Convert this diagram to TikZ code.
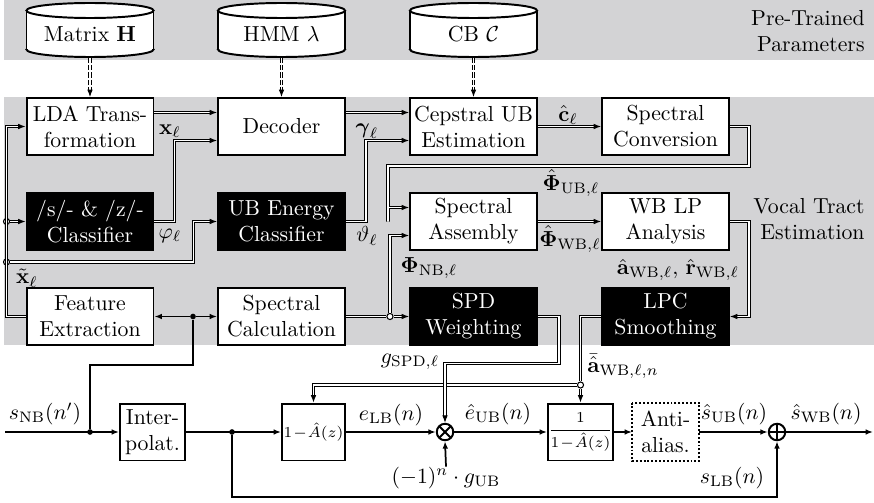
\documentclass[tikz,border=0pt]{standalone}
\usepackage{amsmath}
\usetikzlibrary{arrows.meta,calc}
\definecolor{bandgray}{RGB}{211,211,213}
\pgfdeclarelayer{bands}
\pgfdeclarelayer{drums}
\pgfsetlayers{bands,drums,main}
\begin{document}
\begin{tikzpicture}[x=0.46pt,y=-0.46pt,
  >={Latex[length=3.4pt,width=2.6pt]},
  blk/.style={draw,line width=0.9pt,fill=white,align=center,inner sep=0pt,
    minimum width=58.4pt,minimum height=26.2pt},
  dark/.style={blk,fill=black,text=white},
  filt/.style={blk,minimum width=29pt},
  drum/.style={align=center,inner sep=0pt,minimum width=58.4pt,minimum height=24.8pt},
  sig/.style={line width=0.8pt,->},
  sigl/.style={line width=0.8pt},
  vecl/.style={double=white,line width=0.45pt,double distance=0.6pt},
  vec/.style={vecl,->},
  dashvec/.style={vec,dash pattern=on 2.4pt off 0.9pt},
  jdot/.style={circle,fill=black,inner sep=0pt,minimum size=2.6pt},
  jring/.style={circle,draw,fill=white,line width=0.5pt,inner sep=0pt,minimum size=2.8pt},
  op/.style={circle,draw,line width=0.9pt,fill=white,inner sep=0pt,minimum size=7.6pt},
  lab/.style={inner sep=0pt},
]
\useasboundingbox (0,0) rectangle (874,502);

% shaded groups
\begin{pgfonlayer}{bands}
  \fill[bandgray] (4,0) rectangle (874,60);
  \fill[bandgray] (4,97) rectangle (874,345);
\end{pgfonlayer}

\node[align=right,anchor=east,inner sep=0pt] (ptp) at (865,31) {Pre-Trained\\Parameters};
\node[align=right,anchor=east,inner sep=0pt] (vte) at (865,219) {Vocal Tract\\Estimation};

% databases
\node[drum] (dbH) at (90,34) {Matrix $\mathbf{H}$};
\node[drum] (dbL) at (281.5,34) {HMM $\lambda$};
\node[drum] (dbC) at (473.5,34) {CB $\mathcal{C}$};
\begin{pgfonlayer}{drums}
\foreach \d in {dbH,dbL,dbC}{
  \filldraw[fill=white,line width=0.9pt] ($(\d.center)+(0,15.5)$) ellipse [x radius=63.5,y radius=7.5];
  \fill[white] ($(\d.center)+(-63.5,-23.5)$) rectangle ($(\d.center)+(63.5,15.5)$);
  \draw[line width=0.9pt] ($(\d.center)+(-63.5,-23.5)$) -- ($(\d.center)+(-63.5,15.5)$)
                          ($(\d.center)+(63.5,-23.5)$) -- ($(\d.center)+(63.5,15.5)$);
  \filldraw[fill=white,line width=0.9pt] ($(\d.center)+(0,-23.5)$) ellipse [x radius=63.5,y radius=7.5];
  \coordinate (\d-b) at ($(\d.center)+(0,24)$);
}
\end{pgfonlayer}

% vocal tract estimation blocks
\node[blk]  (lda)  at (90,126.5)    {LDA Trans-\\formation};
\node[blk]  (dec)  at (281.5,126.5) {Decoder};
\node[blk]  (cub)  at (473.5,126.5) {Cepstral UB\\Estimation};
\node[blk]  (sconv) at (665.5,126.5) {Spectral\\Conversion};
\node[dark] (szc)  at (90,221.5)    {/s/- \& /z/-\\Classifier};
\node[dark] (ube)  at (281.5,221.5) {UB Energy\\Classifier};
\node[blk]  (sasm) at (473.5,221.5) {Spectral\\Assembly};
\node[blk]  (wblp) at (665.5,221.5) {WB LP\\Analysis};
\node[blk]  (fex)  at (90,316.5)    {Feature\\Extraction};
\node[blk]  (scal) at (281.5,316.5) {Spectral\\Calculation};
\node[dark] (spd)  at (473.5,316.5) {SPD\\Weighting};
\node[dark] (lpcs) at (665.5,316.5) {LPC\\Smoothing};

% signal path
\node[blk,minimum width=29.9pt] (intp) at (152.5,432) {Inter-\\polat.};
\node[filt] (anf) at (313.5,432) {\scriptsize$1\!-\!\hat{A}(z)$};
\node[op,path picture={\draw[line width=0.9pt]
   (path picture bounding box.north west) -- (path picture bounding box.south east)
   (path picture bounding box.north east) -- (path picture bounding box.south west);}]
   (mul) at (445,432) {};
\node[filt] (syn) at (580.5,432) {\scriptsize$\dfrac{1}{1\!-\!\hat{A}(z)}$};
\node[blk,minimum width=29.9pt,draw=none] (aa) at (665.5,432) {Anti-\\alias.};
\draw[line width=0.9pt,dash pattern=on 0.9pt off 0.9pt] (aa.north west) rectangle (aa.south east);
\node[op,path picture={\draw[line width=0.9pt]
   (path picture bounding box.north) -- (path picture bounding box.south)
   (path picture bounding box.west) -- (path picture bounding box.east);}]
   (add) at (777,432) {};

\coordinate (sin) at (5,432);
\coordinate (sout) at (873,432);
\node[jdot] (jin) at (90,432) {};
\node[jdot] (jfe) at (193,316.5) {};
\node[jdot] (jint) at (232,432) {};

\draw[line width=1pt,->] (sin) -- (intp.west);
\draw[sigl] (jin) -- ++(0,-67) -| (jfe);
\draw[sig] (jfe) -- (fex.east);
\draw[sig] (jfe) -- (scal.west);
\draw[sig] (intp.east) -- (anf.west);
\draw[sig] (jint) -- ++(0,65) -| (add.south);
\draw[sig] (anf.east) -- (mul.west);
\draw[sig] (mul.east) -- (syn.west);
\draw[sig] (syn.east) -- (aa.west);
\draw[sig] (aa.east) -- (add.west);
\draw[sig] (add.east) -- (sout);

\node[lab] (lsnb) at (45,414) {$s_{\mathrm{NB}}(n')$};
\node[lab] (lelb) at (391,415) {$e_{\mathrm{LB}}(n)$};
\node[lab] (leub) at (498,414) {$\hat{e}_{\mathrm{UB}}(n)$};
\node[lab] (lsub) at (734,414) {$\hat{s}_{\mathrm{UB}}(n)$};
\node[lab] (lswb) at (826,414) {$\hat{s}_{\mathrm{WB}}(n)$};
\node[lab] (lslb) at (732,478) {$s_{\mathrm{LB}}(n)$};
\node[lab] (lgub) at (446,478) {$(-1)^n\cdot g_{\mathrm{UB}}$};
\draw[sig] (lgub.north) -- (mul.south);

% parameters into the estimation blocks
\draw[dashvec] (dbH-b) -- (lda.north);
\draw[dashvec] (dbL-b) -- (dec.north);
\draw[dashvec] (dbC-b) -- (cub.north);

% feature bus
\coordinate (bus) at ($(fex.west)+(-19,0)$);
\node[jring] (j1) at (bus |- szc.west) {};
\node[jring] (j2) at ($(bus)+(0,-54.5)$) {};
\draw[vec] (fex.west) -- (bus) |- (lda.west);
\draw[vec] (j1) -- (szc.west);
\draw[vec] (j2) -- ++(187,0) |- (ube.west);
\node[lab] (lxt) at (27,278) {$\tilde{\mathbf{x}}_\ell$};

\draw[vec] ($(lda.east)+(0,-14)$) -- ($(dec.west)+(0,-14)$);
\node[lab] (lx) at (170,131) {$\mathbf{x}_\ell$};
\draw[vec] (szc.east) -- ++(20,0) |- ($(dec.west)+(0,14)$);
\node[lab] (lphi) at (170,236) {$\varphi_\ell$};
\draw[vec] ($(dec.east)+(0,-14)$) -- ($(cub.west)+(0,-14)$);
\node[lab] (lgam) at (367,131) {$\boldsymbol{\gamma}_\ell$};
\draw[vec] (ube.east) -- ++(20,0) |- ($(cub.west)+(0,14)$);
\node[lab] (lth) at (367,236) {$\vartheta_\ell$};
\draw[vec] (cub.east) -- (sconv.west);
\node[lab] (lc) at (568,115) {$\hat{\mathbf{c}}_\ell$};
\draw[vec] (sconv.east) -- ++(19,0) -- ++(0,39.5) -| ($(sasm.west)+(-21,0)$) |- ($(sasm.west)+(0,-14)$);
\node[lab] (lpub) at (571,183) {$\hat{\boldsymbol{\Phi}}_{\mathrm{UB},\ell}$};
\draw[vec] (sasm.east) -- (wblp.west);
\node[lab] (lpwb) at (570,239) {$\hat{\boldsymbol{\Phi}}_{\mathrm{WB},\ell}$};
\draw[vec] (wblp.east) -- ++(19,0) |- (lpcs.east);
\node[lab] (lar) at (678,270) {$\hat{\mathbf{a}}_{\mathrm{WB},\ell},\,\hat{\mathbf{r}}_{\mathrm{WB},\ell}$};

\node[jring] (jnb) at ($(scal.east)+(44,0)$) {};
\draw[vecl] (scal.east) -- (jnb);
\draw[vec] (jnb) -- (spd.west);
\draw[vec] (jnb) |- ($(sasm.west)+(0,14)$);
\node[lab] (lpnb) at (429,268) {$\boldsymbol{\Phi}_{\mathrm{NB},\ell}$};

\node[jring] (jlp) at (580.5,385) {};
\draw[vecl] (lpcs.west) -| (jlp);
\draw[vec] (jlp) -- (syn.north);
\draw[vec] (jlp) -| (anf.north);
\node[lab] (labar) at (623,366) {$\bar{\hat{\mathbf{a}}}_{\mathrm{WB},\ell,n}$};

\draw[vec] (spd.east) -- ++(21,0) |- ($(mul.north)+(0,-59)$) -- (mul.north);
\node[lab] (lgspd) at (410,362) {$g_{\mathrm{SPD},\ell}$};
\end{tikzpicture}
\end{document}
